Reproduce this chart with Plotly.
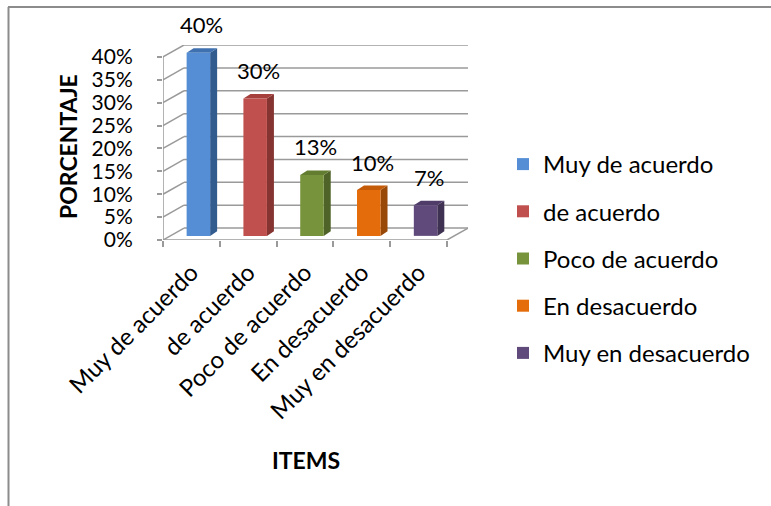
import plotly.graph_objects as go

# ---- data ----
categories = ["Muy de acuerdo", "de acuerdo", "Poco de acuerdo", "En desacuerdo", "Muy en desacuerdo"]
values = [0.40, 0.30, 0.133, 0.10, 0.067]
labels = ["40%", "30%", "13%", "10%", "7%"]
y_ticks = [0.0, 0.05, 0.10, 0.15, 0.20, 0.25, 0.30, 0.35, 0.40]
front_colors = ["#558ED5", "#C0504D", "#77933C", "#E46C0A", "#604A7B"]
top_colors = ["#3F70B0", "#A5403D", "#637D30", "#C45B08", "#4F3C68"]
side_colors = ["#335C8E", "#853432", "#4F6228", "#984807", "#3F3151"]

# ---- layout geometry (pixels) ----
W, H = 771, 506
PL, PR, PT, PB = 163, 468, 45, 240
n = len(categories)
DX = 0.37          # depth offset of back wall (category units)
DY = 0.026         # depth offset of back wall (value units)
BAR_W = 0.414
FRONT_DX = 0.123   # bar front face offset into depth
FRONT_DY = 0.009
DEPTH_DX = 0.123   # bar depth
DEPTH_DY = 0.010
x_range = [-0.5, n - 0.5 + DX]
y_range = [0, max(y_ticks) + DY]

def px_to_paper_x(px):
    return (px - PL) / (PR - PL)

def px_to_paper_y(py):
    return (PB - py) / (PB - PT)

FONT = "Lato"
GRID = "#9a9a9a"
NUM_SIZE = 21
TXT_SIZE = 24

fig = go.Figure()

shapes = []
# back wall / side wall gridlines
for v in y_ticks:
    shapes.append(dict(type="line", xref="x", yref="y", x0=-0.5, y0=v, x1=-0.5 + DX, y1=v + DY,
                       line=dict(color=GRID, width=1.5), layer="below"))
    shapes.append(dict(type="line", xref="x", yref="y", x0=-0.5 + DX, y0=v + DY, x1=n - 0.5 + DX, y1=v + DY,
                       line=dict(color=GRID, width=1.5), layer="below"))
# front axes
shapes.append(dict(type="line", xref="x", yref="y", x0=-0.5, y0=0, x1=-0.5, y1=max(y_ticks),
                   line=dict(color=GRID, width=1.5), layer="below"))
shapes.append(dict(type="line", xref="x", yref="y", x0=-0.5, y0=0, x1=n - 0.5, y1=0,
                   line=dict(color=GRID, width=1.5), layer="below"))
shapes.append(dict(type="line", xref="x", yref="y", x0=n - 0.5, y0=0, x1=n - 0.5 + DX, y1=DY,
                   line=dict(color=GRID, width=1.5), layer="below"))

annotations = []
for i, (cat, v) in enumerate(zip(categories, values)):
    xl = i - BAR_W / 2 + FRONT_DX
    xr = xl + BAR_W
    yb = FRONT_DY
    yt = FRONT_DY + v
    fig.add_trace(go.Bar(
        x=[i], y=[v], base=[yb], width=[BAR_W], offset=[-BAR_W / 2 + FRONT_DX],
        name=cat, legendgroup=cat, marker=dict(color=front_colors[i], line=dict(width=0)),
        hoverinfo="skip",
    ))
    # side face
    shapes.append(dict(type="path", xref="x", yref="y",
                       path=f"M{xr},{yb} L{xr + DEPTH_DX},{yb + DEPTH_DY} L{xr + DEPTH_DX},{yt + DEPTH_DY} L{xr},{yt} Z",
                       fillcolor=side_colors[i], line=dict(width=0), layer="below"))
    # top face
    shapes.append(dict(type="path", xref="x", yref="y",
                       path=f"M{xl},{yt} L{xl + DEPTH_DX},{yt + DEPTH_DY} L{xr + DEPTH_DX},{yt + DEPTH_DY} L{xr},{yt} Z",
                       fillcolor=top_colors[i], line=dict(width=0), layer="below"))
    annotations.append(dict(x=(xl + xr) / 2 + DEPTH_DX / 2, y=yt + DEPTH_DY, xref="x", yref="y",
                            text=labels[i], showarrow=False, xanchor="center", yanchor="bottom", yshift=8,
                            font=dict(family=FONT, size=22, color="#000000")))

# chart frame (left and top borders)
shapes.append(dict(type="line", xref="paper", yref="paper",
                   x0=px_to_paper_x(8.5), y0=px_to_paper_y(7), x1=px_to_paper_x(8.5), y1=px_to_paper_y(H + 5),
                   line=dict(color="#8c8c8c", width=2)))
shapes.append(dict(type="line", xref="paper", yref="paper",
                   x0=px_to_paper_x(8), y0=px_to_paper_y(7), x1=px_to_paper_x(W + 5), y1=px_to_paper_y(7),
                   line=dict(color="#8c8c8c", width=2)))

# axis titles
annotations.append(dict(x=px_to_paper_x(68), y=px_to_paper_y(147), xref="paper", yref="paper",
                        text="<b>PORCENTAJE</b>", textangle=-90, showarrow=False,
                        xanchor="center", yanchor="middle",
                        font=dict(family=FONT, size=23, color="#000000")))
annotations.append(dict(x=px_to_paper_x(306), y=px_to_paper_y(460), xref="paper", yref="paper",
                        text="<b>ITEMS</b>", showarrow=False, xanchor="center", yanchor="middle",
                        font=dict(family=FONT, size=23, color="#000000")))

fig.update_layout(
    width=W, height=H,
    margin=dict(l=PL, r=W - PR, t=PT, b=H - PB),
    paper_bgcolor="white", plot_bgcolor="white",
    barmode="overlay",
    showlegend=True,
    legend=dict(xref="container", yref="container", x=503 / W, y=1 - 142 / H,
                xanchor="left", yanchor="top", traceorder="grouped", tracegroupgap=13,
                maxheight=480,
                font=dict(family=FONT, size=TXT_SIZE, color="#000000"), bgcolor="rgba(0,0,0,0)"),
    shapes=shapes,
    annotations=annotations,
    font=dict(family=FONT, size=NUM_SIZE, color="#000000"),
)
fig.update_xaxes(range=x_range, showgrid=False, zeroline=False, showline=False,
                 tickmode="array", tickvals=list(range(n)), ticktext=categories,
                 ticks="", tickangle=-45, ticklabelstandoff=13,
                 tickfont=dict(family=FONT, size=TXT_SIZE, color="#000000"),
                 minor=dict(tickmode="array", tickvals=[i - 0.5 for i in range(n + 1)],
                            ticks="outside", ticklen=6, tickcolor=GRID, tickwidth=1.5))
fig.update_yaxes(range=y_range, showgrid=False, zeroline=False, showline=False,
                 tickmode="array", tickvals=y_ticks, tickformat=".0%",
                 ticks="outside", ticklen=5, tickcolor=GRID, tickwidth=1.5,
                 ticklabelstandoff=20,
                 tickfont=dict(family=FONT, size=NUM_SIZE, color="#000000"))

fig.write_html("out.html")
